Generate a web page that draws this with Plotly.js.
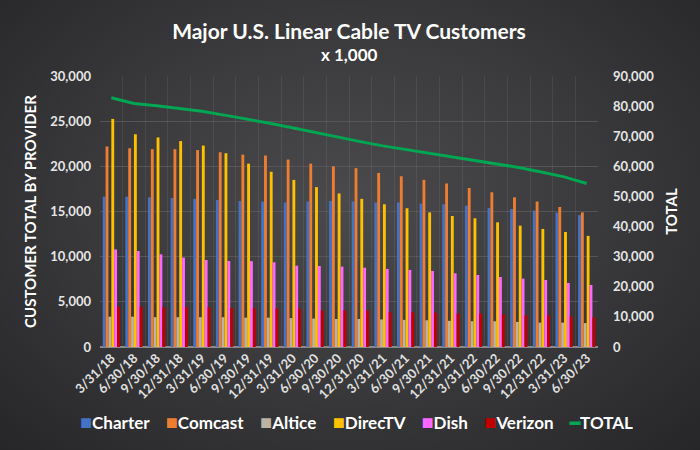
<!DOCTYPE html>
<html>
<head>
<meta charset="utf-8">
<script src="https://cdn.plot.ly/plotly-3.0.1.min.js"></script>
<style>
html,body{margin:0;padding:0;width:700px;height:450px;overflow:hidden;
background: radial-gradient(ellipse at 50% 45%, #4a4a4c 0%, #3c3c3e 45%, #262628 100%);}
#chart{width:700px;height:450px;}
</style>
</head>
<body>
<div id="chart"></div>
<script>
const quarters = ["3/31/18","6/30/18","9/30/18","12/31/18","3/31/19","6/30/19","9/30/19","12/31/19",
  "3/31/20","6/30/20","9/30/20","12/31/20","3/31/21","6/30/21","9/30/21","12/31/21",
  "3/31/22","6/30/22","9/30/22","12/31/22","3/31/23","6/30/23"];
const charter  = [16640,16640,16570,16500,16400,16280,16170,16100,16000,16100,16170,16130,16000,16000,15870,15800,15650,15400,15280,15100,14870,14600];
const comcast  = [22200,22000,21900,21900,21800,21560,21300,21200,20750,20300,20000,19800,19270,18900,18500,18100,17600,17130,16570,16100,15500,14900];
const altice   = [3360,3360,3300,3300,3300,3300,3250,3250,3200,3150,3100,3100,3050,3000,2960,2900,2850,2850,2780,2700,2700,2650];
const directv  = [25250,23550,23200,22800,22300,21450,20300,19400,18500,17700,17000,16400,15800,15360,14900,14500,14250,13800,13430,13070,12730,12300];
const dish     = [10800,10630,10260,9900,9630,9520,9500,9380,9000,8970,8900,8780,8640,8530,8420,8160,7970,7750,7570,7420,7090,6870];
const verizon  = [4460,4460,4400,4400,4400,4350,4300,4250,4250,4050,4050,4050,3840,3840,3800,3700,3700,3600,3500,3500,3400,3300];
const total    = [82800,80900,80100,79300,78300,77000,75700,74300,72800,71200,69800,68200,66800,65600,64500,63200,62100,60800,59600,58100,56500,54300];

const font = "Lato, 'Open Sans', sans-serif";
const series = [
  {name:"Charter", y:charter, color:"#4472C4"},
  {name:"Comcast", y:comcast, color:"#ED7D31"},
  {name:"Altice", y:altice, color:"#BDB3A2"},
  {name:"DirecTV", y:directv, color:"#FFC000"},
  {name:"Dish", y:dish, color:"#FF66FF"},
  {name:"Verizon", y:verizon, color:"#C00000"}
];
const totalColor = "#00A651";
const traces = series.map(s => ({
  type:"bar", name:s.name, x:quarters, y:s.y,
  marker:{color:s.color, line:{width:0}}, hoverinfo:"x+y+name"
}));
traces.push({
  type:"scatter", mode:"lines", name:"TOTAL", x:quarters, y:total, yaxis:"y2",
  line:{color:totalColor, width:3}
});
// invisible helper trace on a linear overlay axis, used only for category-boundary gridlines
traces.push({type:"scatter", x:[0, quarters.length-1], y:[0,0], xaxis:"x2", mode:"none", showlegend:false, hoverinfo:"skip"});

// compact legend line built from the series names / colours
const legendText = series.map(s => `<span style="color:${s.color};font-size:20px">■</span>${s.name}`)
  .concat([`<span style="color:${totalColor}">━</span>TOTAL`]).join("&nbsp;&nbsp;&nbsp;&nbsp;");

const layout = {
  width:700, height:450,
  paper_bgcolor:"rgba(0,0,0,0)", plot_bgcolor:"rgba(0,0,0,0)",
  margin:{l:100, r:102, t:76, b:103},
  showlegend:false,
  title:{text:"<b>Major U.S. Linear Cable TV Customers</b>",
    font:{family:font, size:21, color:"#FFFFFF"}, x:0.5, xanchor:"center", xref:"paper",
    y:1-32/450, yanchor:"middle", yref:"container"},
  annotations:[
    {text:"<b>x 1,000</b>", xref:"paper", yref:"paper", x:0.5, y:1+(76-55)/271, xanchor:"center", yanchor:"middle",
      showarrow:false, font:{family:font, size:17, color:"#FFFFFF"}},
    {text:"<b>"+legendText+"</b>", xref:"paper", yref:"paper", x:0.515, y:-(421-347)/271, xanchor:"center", yanchor:"middle",
      showarrow:false, font:{family:font, size:17, color:"#FFFFFF"}}
  ],
  barmode:"group", bargap:0.24, bargroupgap:0,
  xaxis:{type:"category", tickangle:-45, tickfont:{family:font, size:13, color:"#E0E0E0", weight:"bold"},
    showgrid:false, zeroline:false, showline:false, ticks:"", fixedrange:true, automargin:false},
  xaxis2:{overlaying:"x", range:[-0.5, quarters.length-0.5], tick0:-0.5, dtick:1, showticklabels:false,
    showgrid:true, gridcolor:"rgba(255,255,255,0.07)", gridwidth:1, zeroline:false, ticks:""},
  yaxis:{range:[0,30000], dtick:5000, tickformat:",d", showgrid:true, gridcolor:"#555558", gridwidth:1,
    zeroline:true, zerolinecolor:"#8a8a8a", zerolinewidth:1.5, automargin:false,
    tickfont:{family:font, size:13, color:"#E6E6E6", weight:"bold"}, ticks:"", ticklen:0, ticklabelstandoff:8,
    title:{text:"<b>CUSTOMER TOTAL BY PROVIDER</b>", font:{family:font, size:15, color:"#FFFFFF"}, standoff:10}},
  yaxis2:{overlaying:"y", side:"right", range:[0,90000], dtick:10000, tickformat:",d", showgrid:false, zeroline:false,
    automargin:false, ticklabelstandoff:14,
    tickfont:{family:font, size:13, color:"#E6E6E6", weight:"bold"},
    title:{text:"<b>TOTAL</b>", font:{family:font, size:15, color:"#FFFFFF"}, standoff:13}}
};
Plotly.newPlot("chart", traces, layout, {displayModeBar:false, staticPlot:true});
</script>
</body>
</html>
